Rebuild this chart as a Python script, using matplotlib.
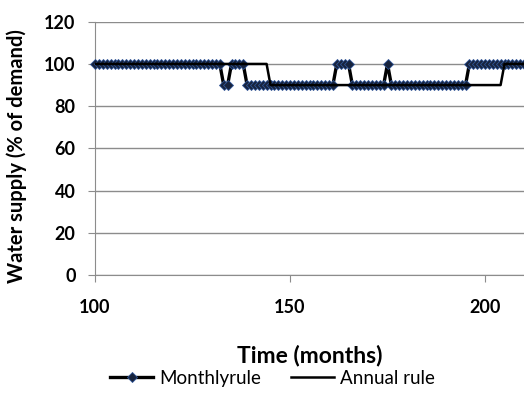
import numpy as np
import matplotlib.pyplot as plt

months = np.arange(100, 211)

# values as (level, number of months) runs
monthly_levels = [100, 90, 100, 90, 100, 90, 100, 90, 100]
monthly_counts = [33, 2, 4, 23, 4, 9, 1, 20, 15]
annual_levels = [100, 90, 100]
annual_counts = [45, 60, 6]

monthly = np.repeat(monthly_levels, monthly_counts)
annual = np.repeat(annual_levels, annual_counts)

y_ticks = [0, 20, 40, 60, 80, 100, 120]
x_ticks = [100, 150, 200]

fig = plt.figure(figsize=(5.24, 3.94), dpi=100)
ax = fig.add_axes([0.1813, 0.3013, 0.8187, 0.6437])

ax.plot(months, monthly, color="black", lw=2.4, marker="D", markersize=5.5,
        markerfacecolor="#17233d", markeredgecolor="#2f5597", markeredgewidth=0.6,
        label="Monthlyrule", clip_on=False, zorder=3)
ax.plot(months, annual, color="black", lw=1.8, label="Annual rule", zorder=4)

ax.set_xlim(100, 210)
ax.set_ylim(0, 120)
ax.set_xticks(x_ticks)
ax.set_yticks(y_ticks)
ax.grid(axis="y", color="#8c8c8c", lw=1)
ax.set_axisbelow(True)

for s in ["top", "right"]:
    ax.spines[s].set_visible(False)
for s in ["left", "bottom"]:
    ax.spines[s].set_color("#8c8c8c")
ax.tick_params(colors="#8c8c8c", length=5, labelcolor="black")
for lab in ax.get_xticklabels() + ax.get_yticklabels():
    lab.set_fontfamily("Lato")
    lab.set_fontweight("bold")
    lab.set_fontsize(13)
ax.tick_params(axis="x", pad=12)
ax.tick_params(axis="y", pad=9)

ax.set_xlabel("Time (months)", fontfamily="Lato", fontweight="bold", fontsize=16.5)
ax.set_ylabel("Water supply (% of demand)", fontfamily="Lato", fontweight="bold", fontsize=14.5)
ax.xaxis.set_label_coords(0.501, -0.272)
ax.yaxis.set_label_coords(-0.158, 0.47)

fig.legend(loc="center", bbox_to_anchor=(0.52, 0.04), ncol=2, frameon=False,
           prop={"family": "Lato", "size": 13.5}, handlelength=2.3, columnspacing=1.6,
           handletextpad=0.3)

fig.savefig("out.png", dpi=100)
